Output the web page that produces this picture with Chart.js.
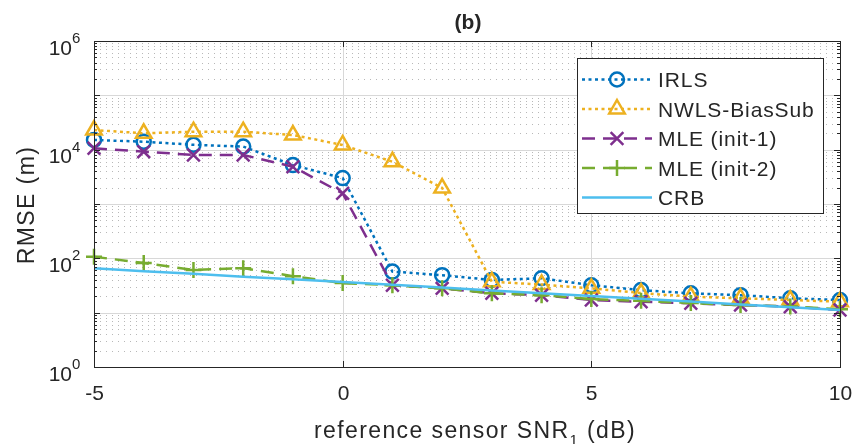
<!DOCTYPE html>
<html lang="en">
<head>
    <meta charset="UTF-8">
    <title>RMSE vs reference sensor SNR</title>
    <script src="https://cdn.jsdelivr.net/npm/chart.js"></script>
    <style>
        body {
            margin: 0;
            padding: 0;
            background: #ffffff;
        }
        #wrap {
            width: 854px;
            height: 444px;
        }
    </style>
</head>
<body>
<div id="wrap"><canvas id="rmseChart" width="854" height="444"></canvas></div>
<script>
// SNR of the reference sensor (dB)
const snr = [-5, -4, -3, -2, -1, 0, 1, 2, 3, 4, 5, 6, 7, 8, 9, 10];

// RMSE (m)
const irls = [15100, 14000, 12300, 11400, 5200, 3000, 57, 49, 40, 43, 32, 26, 22.7, 21, 18.4, 17.1];
const nwlsBiasSub = [23000, 20000, 21400, 21400, 18600, 12200, 6000, 1970, 37, 33, 28, 23, 19.7, 18.4, 17.1, 15.9];
const mleInit1 = [10600, 9200, 8000, 8000, 4850, 1570, 32, 28, 22.7, 21, 17.1, 15.9, 14.9, 13.8, 12.9, 11.2];
const mleInit2 = [107, 82, 61, 66, 47, 35, 32, 28, 22.7, 21, 17.8, 16.5, 15, 13.8, 13, 11.5];
const crb = [65.5, 58, 52, 46, 41, 36.5, 32.5, 29, 25.5, 22.7, 20.2, 18, 16, 14.2, 12.6, 11.2];

const xTicks = [-5, 0, 5, 10];
const yExponents = [0, 2, 4, 6];

const textColor = '#262626';
const fontName = '"Liberation Sans", Arial, Helvetica, sans-serif';

function pts(values) {
    return snr.map((s, i) => ({ x: s, y: values[i] }));
}

const series = [
    { label: 'IRLS', data: irls, color: '#0072BD', dash: [3, 3.5], marker: 'circle', radius: 7, order: 5 },
    { label: 'NWLS-BiasSub', data: nwlsBiasSub, color: '#EDB120', dash: [3, 3.5], marker: 'triangle', radius: 9, order: 4 },
    { label: 'MLE (init-1)', data: mleInit1, color: '#7E2F8E', dash: [13, 8], marker: 'crossRot', radius: 9, order: 3 },
    { label: 'MLE (init-2)', data: mleInit2, color: '#77AC30', dash: [13, 8], marker: 'cross', radius: 8, order: 2 },
    { label: 'CRB', data: crb, color: '#4DBEEE', dash: [], marker: false, radius: 0, order: 1 }
];

function drawMarker(ctx, type, x, y, r) {
    ctx.beginPath();
    if (type === 'circle') {
        ctx.arc(x, y, r, 0, Math.PI * 2);
    } else if (type === 'triangle') {
        ctx.moveTo(x, y - r);
        ctx.lineTo(x + r * 0.866, y + r * 0.5);
        ctx.lineTo(x - r * 0.866, y + r * 0.5);
        ctx.closePath();
    } else if (type === 'crossRot') {
        const d = r * 0.7071;
        ctx.moveTo(x - d, y - d); ctx.lineTo(x + d, y + d);
        ctx.moveTo(x + d, y - d); ctx.lineTo(x - d, y + d);
    } else if (type === 'cross') {
        ctx.moveTo(x - r, y); ctx.lineTo(x + r, y);
        ctx.moveTo(x, y - r); ctx.lineTo(x, y + r);
    }
    ctx.stroke();
}

function hline(ctx, x1, x2, y) {
    ctx.beginPath(); ctx.moveTo(x1, y); ctx.lineTo(x2, y); ctx.stroke();
}
function vline(ctx, x, y1, y2) {
    ctx.beginPath(); ctx.moveTo(x, y1); ctx.lineTo(x, y2); ctx.stroke();
}

// matlab style axes: grid, box with inward ticks, labels and legend
const matlabAxes = {
    id: 'matlabAxes',
    beforeDatasetsDraw(chart) {
        const { ctx, chartArea: a, scales: { x, y } } = chart;
        ctx.save();
        ctx.lineWidth = 1;
        // minor grid (dotted)
        ctx.strokeStyle = '#b8b8b8';
        ctx.setLineDash([1, 5]);
        for (let e = 0; e < 6; e++) {
            for (let m = 2; m < 10; m++) {
                const py = Math.round(y.getPixelForValue(m * Math.pow(10, e))) + 0.5;
                hline(ctx, a.left, a.right, py);
            }
        }
        // major grid
        ctx.setLineDash([]);
        ctx.strokeStyle = '#d8d8d8';
        for (let e = 1; e < 6; e++) {
            const py = Math.round(y.getPixelForValue(Math.pow(10, e))) + 0.5;
            hline(ctx, a.left, a.right, py);
        }
        xTicks.slice(1, -1).forEach(v => {
            const px = Math.round(x.getPixelForValue(v)) + 0.5;
            vline(ctx, px, a.top, a.bottom);
        });
        ctx.restore();
    },
    afterDraw(chart) {
        const { ctx, chartArea: a, scales: { x, y } } = chart;
        ctx.save();
        ctx.strokeStyle = textColor;
        ctx.fillStyle = textColor;
        ctx.lineWidth = 1;

        // box
        ctx.strokeRect(Math.round(a.left) + 0.5, Math.round(a.top) + 0.5,
            Math.round(a.right - a.left), Math.round(a.bottom - a.top));

        // x ticks + labels
        ctx.font = '21px ' + fontName;
        ctx.textAlign = 'center';
        ctx.textBaseline = 'alphabetic';
        xTicks.forEach(v => {
            const px = Math.round(x.getPixelForValue(v)) + 0.5;
            vline(ctx, px, a.bottom, a.bottom - 6);
            vline(ctx, px, a.top, a.top + 6);
            ctx.fillText(String(v), px, a.bottom + 33);
        });

        // y ticks (major + minor) + labels
        for (let e = 0; e <= 6; e++) {
            const py = Math.round(y.getPixelForValue(Math.pow(10, e))) + 0.5;
            hline(ctx, a.left, a.left + 6, py);
            hline(ctx, a.right, a.right - 6, py);
            if (e < 6) {
                for (let m = 2; m < 10; m++) {
                    const my = Math.round(y.getPixelForValue(m * Math.pow(10, e))) + 0.5;
                    hline(ctx, a.left, a.left + 3, my);
                    hline(ctx, a.right, a.right - 3, my);
                }
            }
        }
        yExponents.forEach(e => {
            const py = y.getPixelForValue(Math.pow(10, e));
            ctx.font = '21px ' + fontName;
            ctx.textAlign = 'right';
            ctx.fillText('10', 72, py + 13.5);
            ctx.font = '15px ' + fontName;
            ctx.textAlign = 'left';
            ctx.fillText(String(e), 72, py + 2);
        });

        // axis titles
        ctx.letterSpacing = '1.4px';
        ctx.textAlign = 'left';
        const main = 'reference sensor SNR';
        const tail = ' (dB)';
        ctx.font = '23px ' + fontName;
        const w1 = ctx.measureText(main).width;
        const w3 = ctx.measureText(tail).width;
        ctx.font = '15px ' + fontName;
        const w2 = ctx.measureText('1').width;
        let tx = (a.left + a.right) / 2 + 8 - (w1 + w2 + w3) / 2;
        ctx.font = '23px ' + fontName;
        ctx.fillText(main, tx, 438);
        ctx.font = '15px ' + fontName;
        ctx.fillText('1', tx + w1, 445);
        ctx.font = '23px ' + fontName;
        ctx.fillText(tail, tx + w1 + w2, 438);

        ctx.save();
        ctx.translate(34, 205);
        ctx.rotate(-Math.PI / 2);
        ctx.textAlign = 'center';
        ctx.fillText('RMSE (m)', 0, 0);
        ctx.restore();
        ctx.letterSpacing = '0px';

        // title
        ctx.font = 'bold 21px ' + fontName;
        ctx.textAlign = 'center';
        ctx.fillText('(b)', 468, 29);

        // legend
        const lx = 577.5, ly = 58.5, lw = 246, lh = 155;
        ctx.fillStyle = '#ffffff';
        ctx.fillRect(lx, ly, lw, lh);
        ctx.strokeStyle = textColor;
        ctx.strokeRect(lx, ly, lw, lh);
        ctx.letterSpacing = '0.9px';
        ctx.font = '21px ' + fontName;
        ctx.textAlign = 'left';
        series.forEach((s, i) => {
            const cy = 79.5 + i * 29.5;
            ctx.strokeStyle = s.color;
            ctx.lineWidth = 2.5;
            ctx.setLineDash(s.dash);
            hline(ctx, 582, 652, cy);
            ctx.setLineDash([]);
            if (s.marker) {
                drawMarker(ctx, s.marker, 617, cy, s.radius);
            }
            ctx.fillStyle = textColor;
            ctx.fillText(s.label, 658, cy + 7.5);
        });
        ctx.restore();
    }
};

const datasets = series.map(s => ({
    label: s.label,
    data: pts(s.data),
    borderColor: s.color,
    backgroundColor: 'rgba(0,0,0,0)',
    borderWidth: 2.5,
    borderDash: s.dash,
    pointStyle: s.marker || 'circle',
    pointRadius: s.radius,
    pointBorderWidth: 2.5,
    pointBorderColor: s.color,
    pointBackgroundColor: 'rgba(0,0,0,0)',
    tension: 0,
    clip: false,
    order: s.order
}));

new Chart(document.getElementById('rmseChart').getContext('2d'), {
    type: 'line',
    data: { datasets: datasets },
    options: {
        responsive: false,
        devicePixelRatio: 1,
        animation: false,
        layout: {
            padding: { left: 94, right: 14, top: 41, bottom: 77 }
        },
        plugins: {
            legend: { display: false },
            tooltip: { enabled: false },
            title: { display: false }
        },
        scales: {
            x: {
                type: 'linear',
                min: -5,
                max: 10,
                grid: { display: false, drawTicks: false },
                border: { display: false },
                ticks: { display: false }
            },
            y: {
                type: 'logarithmic',
                min: 1,
                max: 1000000,
                grid: { display: false, drawTicks: false },
                border: { display: false },
                ticks: { display: false }
            }
        }
    },
    plugins: [matlabAxes]
});
</script>
</body>
</html>
